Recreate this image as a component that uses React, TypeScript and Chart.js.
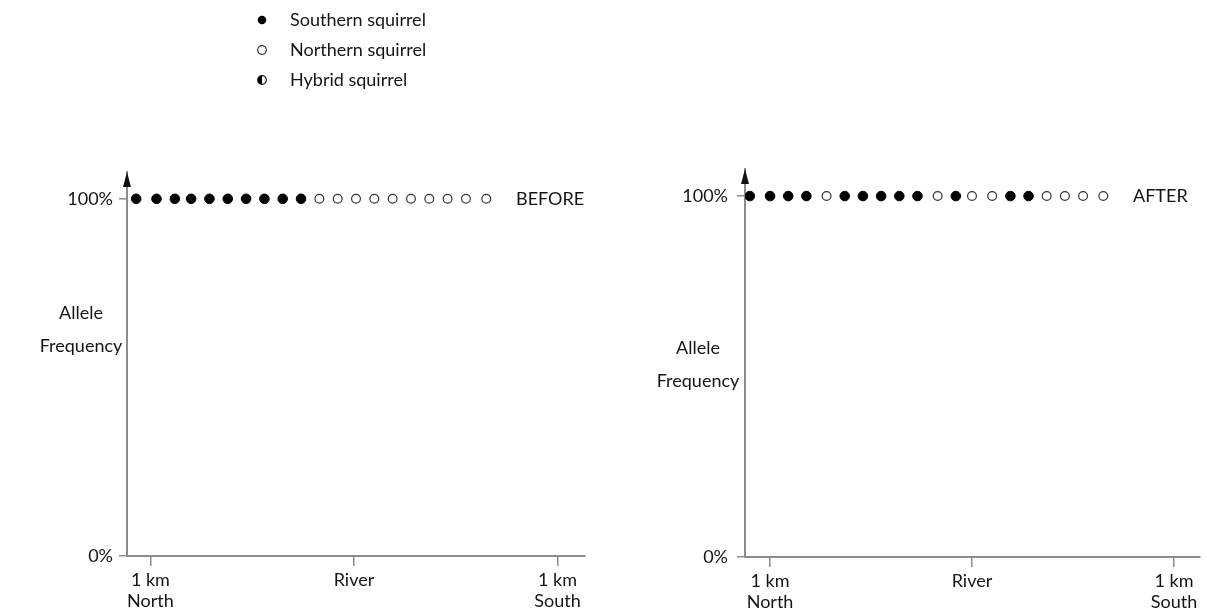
import React, { useEffect, useRef } from "react";
import { Chart, registerables } from "chart.js";

Chart.register(...registerables);

// ---------- data ----------
const legendLabels = ["Southern squirrel", "Northern squirrel", "Hybrid squirrel"];

// sampling sites along the transect, km from the river (negative = north)
const beforeSitesKm = [-1.07, -0.97, -0.88, -0.8, -0.71, -0.62, -0.53, -0.44, -0.35, -0.26, -0.17, -0.08, 0.01, 0.1, 0.19, 0.28, 0.37, 0.46, 0.55, 0.65];
const afterSitesKm = [-1.1, -1.0, -0.91, -0.82, -0.72, -0.63, -0.54, -0.45, -0.36, -0.27, -0.17, -0.08, 0.0, 0.1, 0.19, 0.28, 0.37, 0.46, 0.55, 0.65];

// S = southern, N = northern
const beforeTypes = ["S", "S", "S", "S", "S", "S", "S", "S", "S", "S", "N", "N", "N", "N", "N", "N", "N", "N", "N", "N"];
const afterTypes = ["S", "S", "S", "S", "N", "S", "S", "S", "S", "S", "N", "S", "N", "N", "S", "S", "N", "N", "N", "N"];

// allele frequency (%) at each site
const beforeFrequency = [100, 100, 100, 100, 100, 100, 100, 100, 100, 100, 100, 100, 100, 100, 100, 100, 100, 100, 100, 100];
const afterFrequency = [100, 100, 100, 100, 100, 100, 100, 100, 100, 100, 100, 100, 100, 100, 100, 100, 100, 100, 100, 100];

const xTickValues = [-1, 0, 1];
const xTickLabels: (string | string[])[] = [["1 km", "North"], "River", ["1 km", "South"]];
const yTickValues = [0, 100];
const yTickLabels = ["0%", "100%"];
const yTitleLines = ["Allele", "Frequency"];

// ---------- styling ----------
const FONT = 'Lato, "Open Sans", sans-serif';
const TEXT = "#151515";
const AXIS = "#8c8c8c";

function buildDatasets(sites: number[], types: string[], freq: number[]) {
  const south = sites.map((x, i) => ({ x, y: freq[i], t: types[i] })).filter((p) => p.t === "S");
  const north = sites.map((x, i) => ({ x, y: freq[i], t: types[i] })).filter((p) => p.t === "N");
  return [
    {
      label: legendLabels[0],
      data: south,
      pointRadius: 4.8,
      pointBackgroundColor: "#000",
      pointBorderColor: "#000",
      pointBorderWidth: 1,
      showLine: false,
    },
    {
      label: legendLabels[1],
      data: north,
      pointRadius: 4.4,
      pointBackgroundColor: "#fff",
      pointBorderColor: "#333",
      pointBorderWidth: 1.2,
      showLine: false,
    },
  ];
}

type PanelOpts = {
  sites: number[];
  types: string[];
  freq: number[];
  tag: string;
  tagX: number;
  xMin: number;
  xMax: number;
  yAxisWidth: number;
  padTop: number;
  padRight: number;
  xAxisHeight: number;
  tickPad: number;
  titleX: number;
  titleY: number;
  showLegend: boolean;
};

function makeConfig(o: PanelOpts): any {
  const decor = {
    id: "decor",
    afterDraw(chart: any) {
      const ctx = chart.ctx;
      const a = chart.chartArea;
      const ys = chart.scales.y;
      ctx.save();
      // arrow on y axis
      ctx.fillStyle = "#111";
      ctx.beginPath();
      ctx.moveTo(a.left, a.top);
      ctx.lineTo(a.left - 4, a.top + 15);
      ctx.lineTo(a.left + 4, a.top + 15);
      ctx.closePath();
      ctx.fill();
      // y title (horizontal)
      ctx.fillStyle = TEXT;
      ctx.font = `18px ${FONT}`;
      ctx.textAlign = "center";
      ctx.textBaseline = "middle";
      yTitleLines.forEach((l, i) => ctx.fillText(l, o.titleX, o.titleY + i * 33));
      // BEFORE / AFTER tag
      ctx.textAlign = "left";
      ctx.fillText(o.tag, o.tagX, ys.getPixelForValue(100));
      // legend
      if (o.showLegend) {
        const lx = 262;
        const rows = [20, 50, 80];
        rows.forEach((y, i) => {
          ctx.beginPath();
          ctx.arc(lx, y, 4.3, 0, Math.PI * 2);
          if (i === 0) {
            ctx.fillStyle = "#000";
            ctx.fill();
          } else if (i === 1) {
            ctx.fillStyle = "#fff";
            ctx.fill();
            ctx.strokeStyle = "#333";
            ctx.lineWidth = 1.2;
            ctx.stroke();
          } else {
            ctx.fillStyle = "#fff";
            ctx.fill();
            ctx.strokeStyle = "#111";
            ctx.lineWidth = 1.2;
            ctx.stroke();
            ctx.beginPath();
            ctx.arc(lx, y, 4.3, Math.PI / 2, (Math.PI * 3) / 2);
            ctx.closePath();
            ctx.fillStyle = "#000";
            ctx.fill();
          }
          ctx.fillStyle = TEXT;
          ctx.font = `18px ${FONT}`;
          ctx.textAlign = "left";
          ctx.textBaseline = "middle";
          ctx.fillText(legendLabels[i], lx + 28, y);
        });
      }
      ctx.restore();
    },
  };

  return {
    type: "scatter",
    data: { datasets: buildDatasets(o.sites, o.types, o.freq) },
    plugins: [decor],
    options: {
      responsive: false,
      animation: false,
      events: [],
      layout: { padding: { top: o.padTop, right: o.padRight, left: 0, bottom: 0 } },
      plugins: { legend: { display: false }, tooltip: { enabled: false } },
      scales: {
        x: {
          type: "linear",
          min: o.xMin,
          max: o.xMax,
          afterFit: (s: any) => {
            s.height = o.xAxisHeight;
          },
          afterBuildTicks: (s: any) => {
            s.ticks = xTickValues.map((v) => ({ value: v }));
          },
          ticks: {
            color: TEXT,
            font: { family: FONT, size: 18, lineHeight: 1.2 },
            padding: 3,
            maxRotation: 0,
            autoSkip: false,
            callback: (v: number) => xTickLabels[xTickValues.indexOf(v)],
          },
          grid: { drawOnChartArea: false, drawTicks: true, tickLength: 10, color: AXIS, lineWidth: 1.5 },
          border: { color: AXIS, width: 2 },
        },
        y: {
          type: "linear",
          min: 0,
          max: 107.5,
          afterFit: (s: any) => {
            s.width = o.yAxisWidth;
          },
          afterBuildTicks: (s: any) => {
            s.ticks = yTickValues.map((v) => ({ value: v }));
          },
          ticks: {
            color: TEXT,
            font: { family: FONT, size: 18 },
            padding: o.tickPad,
            autoSkip: false,
            callback: (v: number) => yTickLabels[yTickValues.indexOf(v)],
          },
          grid: { drawOnChartArea: false, drawTicks: true, tickLength: 8, color: AXIS, lineWidth: 1.5 },
          border: { color: AXIS, width: 2 },
        },
      },
    },
  };
}

function Panel({ left, width, opts }: { left: number; width: number; opts: PanelOpts }) {
  const ref = useRef<HTMLCanvasElement>(null);
  useEffect(() => {
    if (!ref.current) return;
    const chart = new Chart(ref.current, makeConfig(opts));
    return () => chart.destroy();
  }, []);
  return (
    <canvas
      ref={ref}
      width={width}
      height={609}
      style={{ position: "absolute", left, top: 0, width, height: 609 }}
    />
  );
}

export default function App() {
  return (
    <div style={{ position: "fixed", left: 0, top: 0, width: 1207, height: 609, background: "#fff" }}>
      <Panel
        left={0}
        width={603}
        opts={{
          sites: beforeSitesKm,
          types: beforeTypes,
          freq: beforeFrequency,
          tag: "BEFORE",
          tagX: 516,
          xMin: -1.115,
          xMax: 1.135,
          yAxisWidth: 127,
          padTop: 172,
          padRight: 18,
          xAxisHeight: 53,
          tickPad: 6,
          titleX: 81,
          titleY: 313,
          showLegend: true,
        }}
      />
      <Panel
        left={603}
        width={604}
        opts={{
          sites: afterSitesKm,
          types: afterTypes,
          freq: afterFrequency,
          tag: "AFTER",
          tagX: 530,
          xMin: -1.124,
          xMax: 1.129,
          yAxisWidth: 142,
          padTop: 169,
          padRight: 7,
          xAxisHeight: 52,
          tickPad: 9,
          titleX: 95,
          titleY: 348,
          showLegend: false,
        }}
      />
    </div>
  );
}
